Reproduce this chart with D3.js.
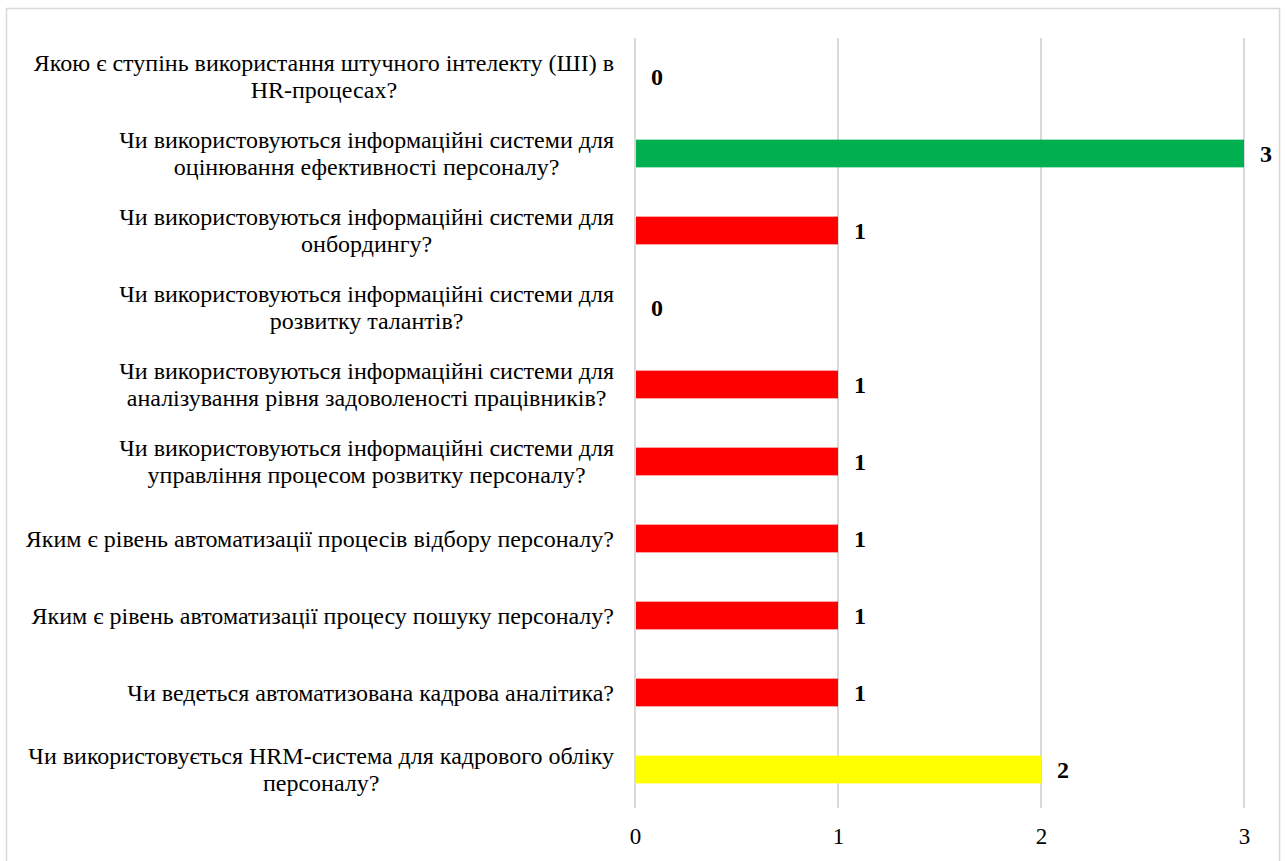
<!DOCTYPE html>
<html>
<head>
<meta charset="utf-8">
<script src="https://cdn.jsdelivr.net/npm/d3@7/dist/d3.min.js"></script>
<style>
  html, body { margin: 0; padding: 0; background: #fff; }
  svg { display: block; }
  text { font-family: "Liberation Serif", "Times New Roman", serif; fill: #000; }
</style>
</head>
<body>
<svg id="chart" width="1285" height="861"></svg>
<script>
// Survey questions (top to bottom), "\n" marks the wrap point
const categories = [
  "Якою є ступінь використання штучного інтелекту (ШІ) в\nHR-процесах?",
  "Чи використовуються інформаційні системи для\nоцінювання ефективності персоналу?",
  "Чи використовуються інформаційні системи для\nонбордингу?",
  "Чи використовуються інформаційні системи для\nрозвитку талантів?",
  "Чи використовуються інформаційні системи для\nаналізування рівня задоволеності працівників?",
  "Чи використовуються інформаційні системи для\nуправління процесом розвитку персоналу?",
  "Яким є рівень автоматизації процесів відбору персоналу?",
  "Яким є рівень автоматизації процесу пошуку персоналу?",
  "Чи ведеться автоматизована кадрова аналітика?",
  "Чи використовується HRM-система для кадрового обліку\nперсоналу?"
];
const values = [0, 3, 1, 0, 1, 1, 1, 1, 1, 2];
const barColors = ["#00B050", "#00B050", "#FF0000", "#FF0000", "#FF0000", "#FF0000", "#FF0000", "#FF0000", "#FF0000", "#FFFF00"];
const tickValues = [0, 1, 2, 3];

const svg = d3.select("#chart");

// Chart frame
svg.append("rect")
  .attr("x", 6.5).attr("y", 8.5)
  .attr("width", 1273).attr("height", 870)
  .attr("fill", "#fff").attr("stroke", "#d9d9d9").attr("stroke-width", 1.5);

const plot = { left: 635, right: 1244, top: 38, bottom: 808 };

const x = d3.scaleLinear().domain([0, 3]).range([plot.left, plot.right]);
const y = d3.scaleBand().domain(d3.range(categories.length))
  .range([plot.top, plot.bottom]).paddingInner(0.64).paddingOuter(0.32);

// Vertical gridlines
svg.append("g").selectAll("line").data(tickValues).join("line")
  .attr("x1", d => x(d)).attr("x2", d => x(d))
  .attr("y1", plot.top).attr("y2", plot.bottom)
  .attr("stroke", "#d9d9d9").attr("stroke-width", 2);

// Bars
svg.append("g").selectAll("rect").data(values).join("rect")
  .attr("x", x(0) + 1)
  .attr("y", (d, i) => y(i))
  .attr("width", d => Math.max(0, x(d) - x(0) - 1))
  .attr("height", y.bandwidth())
  .attr("fill", (d, i) => barColors[i]);

// Value labels
svg.append("g").selectAll("text").data(values).join("text")
  .attr("x", d => x(d) + 16)
  .attr("y", (d, i) => y(i) + y.bandwidth() / 2)
  .attr("dy", "0.35em")
  .attr("font-size", 24).attr("font-weight", "bold")
  .text(d => d);

// X axis tick labels
const xAxis = d3.axisBottom(x).tickValues(tickValues).tickSize(0).tickPadding(0).tickFormat(d3.format("d"));
const axisG = svg.append("g").attr("transform", `translate(0, ${plot.bottom + 20})`).call(xAxis);
axisG.select(".domain").remove();
axisG.selectAll("text")
  .attr("font-family", "Liberation Serif, serif").attr("font-size", 23).attr("fill", "#000");

// Category labels: right-aligned block, each line centered within the block
const labelRight = 614;
const lineH = 27;
const catG = svg.append("g");
categories.forEach((c, i) => {
  const lines = c.split("\n");
  const g = catG.append("g");
  const cy = y(i) + y.bandwidth() / 2;
  const texts = lines.map((ln, k) => g.append("text")
    .attr("font-size", 24)
    .attr("text-anchor", "middle")
    .attr("y", cy + (k - (lines.length - 1) / 2) * lineH)
    .attr("dy", "0.35em")
    .text(ln));
  const w = d3.max(texts, t => t.node().getComputedTextLength());
  texts.forEach(t => t.attr("x", labelRight - w / 2));
});
</script>
</body>
</html>
